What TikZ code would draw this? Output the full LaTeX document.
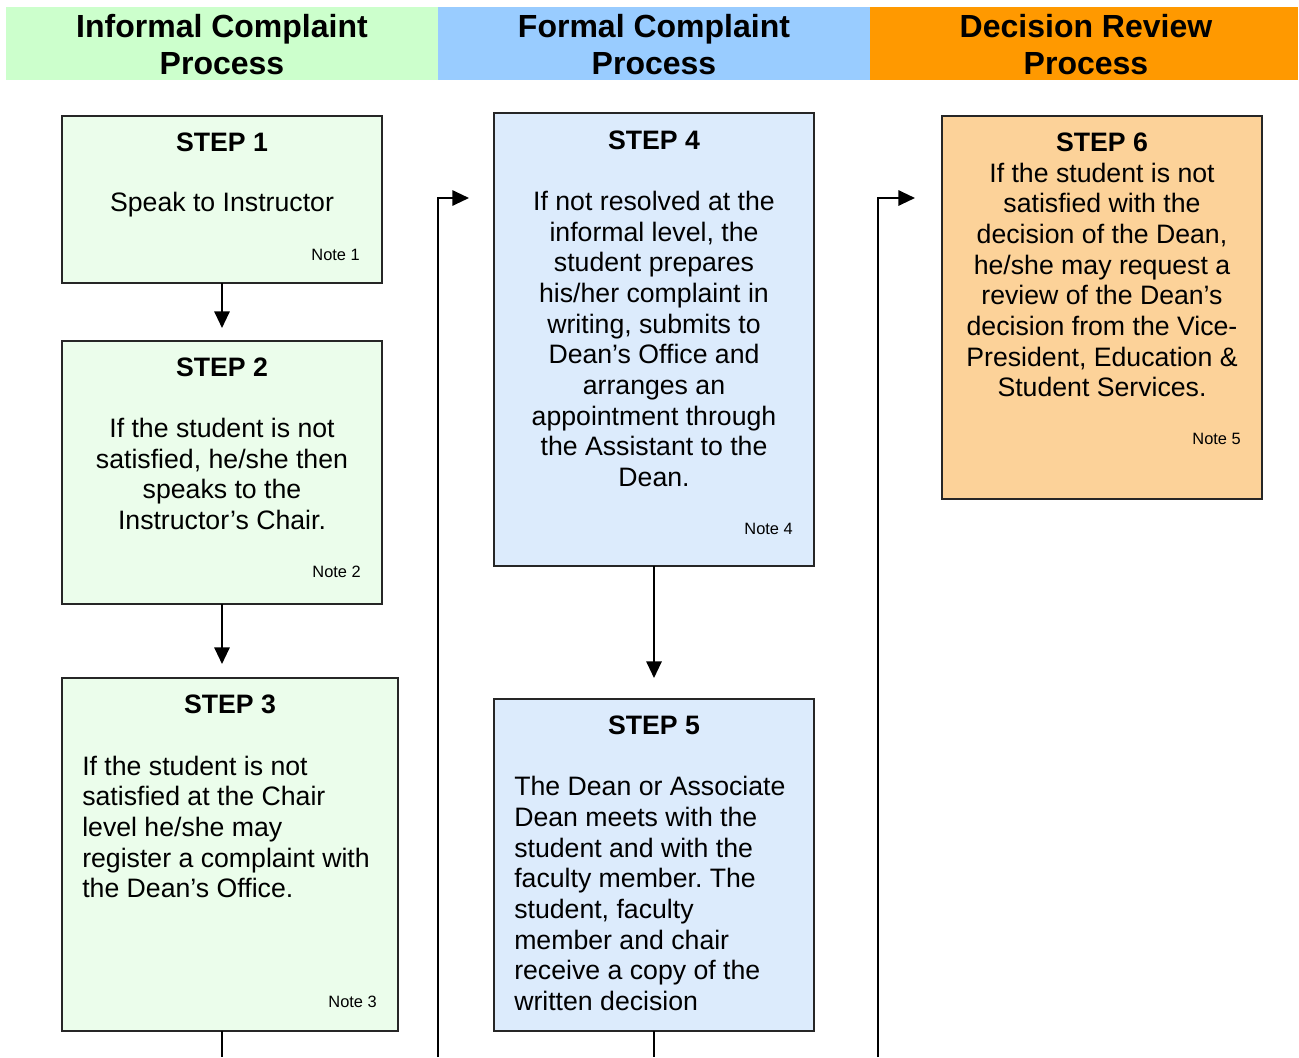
\documentclass[tikz,border=0pt]{standalone}
\usepackage{fontspec}
\setmainfont{Liberation Sans}
\usetikzlibrary{arrows.meta}
\definecolor{hgreen}{HTML}{CCFFCC}
\definecolor{hblue}{HTML}{99CCFF}
\definecolor{horange}{HTML}{FF9900}
\definecolor{bgreen}{HTML}{EBFDEB}
\definecolor{bblue}{HTML}{DCEBFC}
\definecolor{borange}{HTML}{FCD299}
\begin{document}
\frenchspacing
\begin{tikzpicture}[x=0.75pt,y=-0.75pt,
  header/.style={font=\fontsize{24}{27.75}\selectfont\bfseries, align=center, inner sep=0pt},
  stepbox/.style={draw=black!85, line width=1.5pt},
  steptitle/.style={font=\fontsize{20}{23}\selectfont\bfseries, inner sep=0pt},
  body/.style={font=\fontsize{20}{23}\selectfont, inner sep=0pt},
  notelbl/.style={font=\fontsize{12.3}{14}\selectfont, inner sep=0pt, anchor=east},
  conn/.style={line width=1.5pt, black},
  arr/.style={conn, -{Triangle[width=11.5pt,length=12.5pt]}}
]
\useasboundingbox (0,0) rectangle (1299,1057);
\fill[white] (0,0) rectangle (1299,1057);
% headers
\fill[hgreen] (6,7) rectangle (438,80);
\fill[hblue] (438,7) rectangle (870,80);
\fill[horange] (870,7) rectangle (1298,80);
\node[header] (h1) at (222,44.5) {Informal Complaint\\Process};
\node[header] (h2) at (654,44.5) {Formal Complaint\\Process};
\node[header] (h3) at (1086,44.5) {Decision Review\\Process};
% boxes
\draw[stepbox, fill=bgreen] (62,116) rectangle (382,283);
\coordinate (s1t) at (222,116); \coordinate (s1b) at (222,283);
\draw[stepbox, fill=bgreen] (62,341) rectangle (382,604);
\coordinate (s2t) at (222,341); \coordinate (s2b) at (222,604);
\draw[stepbox, fill=bgreen] (62,678) rectangle (398,1031);
\coordinate (s3b) at (222,1031);
\draw[stepbox, fill=bblue] (494,113) rectangle (814,566);
\coordinate (s4b) at (654,566);
\draw[stepbox, fill=bblue] (494,699) rectangle (814,1031);
\coordinate (s5t) at (654,699); \coordinate (s5b) at (654,1031);
\draw[stepbox, fill=borange] (942,116) rectangle (1262,499);
% texts
\node[steptitle] (t1) at (222,142) {STEP 1};
\node[body] (b1) at (222,204.5) {Speak to Instructor};
\node[notelbl] (n1) at (360,255) {Note 1};
\node[steptitle] (t2) at (222,367) {STEP 2};
\node[body, align=center] (b2) at (222,474) {If the student is not\\satisfied, he/she then\\speaks to the\\Instructor’s Chair.};
\node[notelbl] (n2) at (361,572) {Note 2};
\node[steptitle] (t3) at (230,704) {STEP 3};
\node[body, align=left, anchor=west] (b3) at (82,827) {If the student is not\\satisfied at the Chair\\level he/she may\\register a complaint with\\the Dean’s Office.};
\node[notelbl] (n3) at (377,1002) {Note 3};
\node[steptitle] (t4) at (654,140) {STEP 4};
\node[body, align=center] (b4) at (654,339) {If not resolved at the\\informal level, the\\student prepares\\his/her complaint in\\writing, submits to\\Dean’s Office and\\arranges an\\appointment through\\the Assistant to the\\Dean.};
\node[notelbl] (n4) at (793,529) {Note 4};
\node[steptitle] (t5) at (654,725) {STEP 5};
\node[body, align=left, anchor=west] (b5) at (514,893.5) {The Dean or Associate\\Dean meets with the\\student and with the\\faculty member. The\\student, faculty\\member and chair\\receive a copy of the\\written decision};
\node[steptitle] (t6) at (1102,142) {STEP 6};
\node[body, align=center] (b6) at (1102,280) {If the student is not\\satisfied with the\\decision of the Dean,\\he/she may request a\\review of the Dean’s\\decision from the Vice-\\President, Education \&\\Student Services.};
\node[notelbl] (n5) at (1241,439) {Note 5};
% connectors
\coordinate (a1) at (222,328);
\coordinate (a2) at (222,664);
\coordinate (a4) at (654,678);
\draw[arr] (s1b) -- (a1);
\draw[arr] (s2b) -- (a2);
\draw[arr] (s4b) -- (a4);
\coordinate (e3) at (222,1057);
\coordinate (e5) at (654,1057);
\draw[conn] (s3b) -- (e3);
\draw[conn] (s5b) -- (e5);
\coordinate (l1) at (438,1057);
\coordinate (l1c) at (438,198);
\coordinate (l1e) at (469,198);
\draw[arr] (l1) -- (l1c) -- (l1e);
\coordinate (l2) at (878,1057);
\coordinate (l2c) at (878,198);
\coordinate (l2e) at (915,198);
\draw[arr] (l2) -- (l2c) -- (l2e);
\end{tikzpicture}
\end{document}
